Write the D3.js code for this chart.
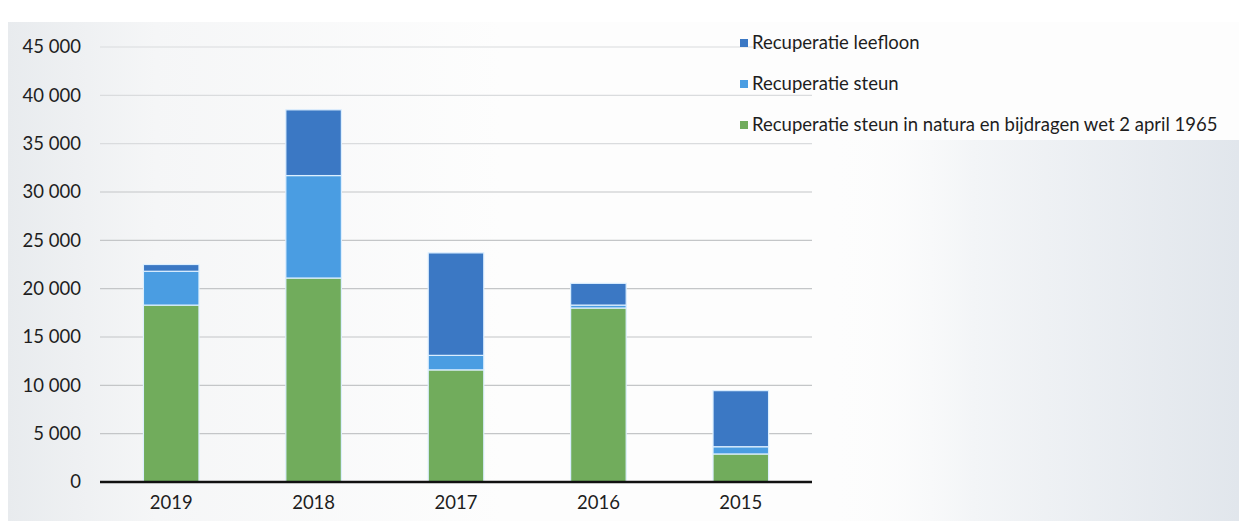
<!DOCTYPE html>
<html>
<head>
<meta charset="utf-8">
<script src="https://cdn.jsdelivr.net/npm/d3@7"></script>
<style>
  html, body { margin: 0; padding: 0; background: #ffffff; }
  svg { display: block; }
  text { font-family: Lato, "Open Sans", "Noto Sans", sans-serif; fill: #1e1e1e; }
</style>
</head>
<body>
<svg id="chart" width="1239" height="521"></svg>
<script>
// ---- data ----
const years = ["2019", "2018", "2017", "2016", "2015"];
const seriesNames = [
  "Recuperatie steun in natura en bijdragen wet 2 april 1965",
  "Recuperatie steun",
  "Recuperatie leefloon"
];
const natura   = [18300, 21100, 11600, 18000, 2900];
const steun    = [3500, 10600, 1500, 300, 750];
const leefloon = [700, 6800, 10600, 2250, 5800];
const yTicks = [0, 5000, 10000, 15000, 20000, 25000, 30000, 35000, 40000, 45000];
const legendOrder = ["Recuperatie leefloon", "Recuperatie steun", "Recuperatie steun in natura en bijdragen wet 2 april 1965"];

const colors = {
  "Recuperatie leefloon": "#3b78c4",
  "Recuperatie steun": "#4a9de2",
  "Recuperatie steun in natura en bijdragen wet 2 april 1965": "#71ac5c"
};

const rows = years.map((yr, i) => ({
  year: yr,
  [seriesNames[0]]: natura[i],
  [seriesNames[1]]: steun[i],
  [seriesNames[2]]: leefloon[i]
}));

(function () {
const svg = d3.select("#chart");
const W = 1239, H = 521;
const FS = 18.5;

// background (scanned page look)
const defs = svg.append("defs");
const grad = defs.append("linearGradient").attr("id", "bg").attr("x1", "0").attr("x2", "1").attr("y1", "0").attr("y2", "0");
grad.append("stop").attr("offset", "0").attr("stop-color", "#e8ebee");
grad.append("stop").attr("offset", "0.12").attr("stop-color", "#f5f6f7");
grad.append("stop").attr("offset", "0.4").attr("stop-color", "#fdfdfd");
grad.append("stop").attr("offset", "1").attr("stop-color", "#fdfdfd");
const grad2 = defs.append("linearGradient").attr("id", "bg2").attr("x1", "0").attr("x2", "1").attr("y1", "0").attr("y2", "0");
grad2.append("stop").attr("offset", "0").attr("stop-color", "#fdfdfd").attr("stop-opacity", 0);
grad2.append("stop").attr("offset", "0.35").attr("stop-color", "#f3f5f7");
grad2.append("stop").attr("offset", "1").attr("stop-color", "#e1e6ec");
svg.append("rect").attr("x", 0).attr("y", 0).attr("width", W).attr("height", H).attr("fill", "#ffffff");
svg.append("rect").attr("x", 8).attr("y", 22).attr("width", W - 8).attr("height", H - 22).attr("fill", "url(#bg)");
svg.append("rect").attr("x", 830).attr("y", 140).attr("width", W - 830).attr("height", H - 140).attr("fill", "url(#bg2)");

const mLeft = 100, mRight = 812, mTop = 47, mBottom = 482;

const x = d3.scaleBand().domain(years).range([mLeft, mRight]).paddingInner(0.61).paddingOuter(0.305);
const y = d3.scaleLinear().domain([0, 45000]).range([mBottom, mTop]);

const fmt = d3.formatLocale({ decimal: ",", thousands: " ", grouping: [3], currency: ["", " €"] }).format(",d");

// gridlines
svg.append("g")
  .selectAll("line")
  .data(yTicks.filter(d => d > 0))
  .join("line")
  .attr("x1", mLeft).attr("x2", mRight)
  .attr("y1", d => y(d)).attr("y2", d => y(d))
  .attr("stroke", d => d >= 35000 ? "#dadcde" : "#c4c6c8").attr("stroke-width", 1.2);

// y axis labels
const yAxis = d3.axisLeft(y).tickValues(yTicks).tickFormat(fmt).tickSize(0).tickPadding(0);
const gy = svg.append("g").attr("transform", `translate(81,0)`).call(yAxis);
gy.select(".domain").remove();
gy.selectAll("text").attr("font-size", FS).attr("font-family", "Lato, 'Open Sans', sans-serif").attr("fill", "#1e1e1e");

// stacked bars
const stacked = d3.stack().keys(seriesNames)(rows);

svg.append("g")
  .selectAll("g")
  .data(stacked)
  .join("g")
  .attr("fill", d => colors[d.key])
  .selectAll("rect")
  .data(d => d)
  .join("rect")
  .attr("x", d => x(d.data.year))
  .attr("width", x.bandwidth())
  .attr("y", d => y(d[1]))
  .attr("height", d => y(d[0]) - y(d[1]))
  .attr("stroke", "#dcefff")
  .attr("stroke-width", 1.2);

// x axis
const xAxis = d3.axisBottom(x).tickSize(0).tickPadding(14);
const gx = svg.append("g").attr("transform", `translate(0,${mBottom})`).call(xAxis);
gx.select(".domain").attr("stroke", "#111").attr("stroke-width", 2.5).attr("d", `M${mLeft},0H${mRight}`);
gx.selectAll("text").attr("font-size", FS).attr("font-family", "Lato, 'Open Sans', sans-serif").attr("fill", "#1e1e1e");

// legend
const lg = svg.append("g").attr("transform", "translate(740,43)");
const item = lg.selectAll("g").data(legendOrder).join("g")
  .attr("transform", (d, i) => `translate(0,${i * 41})`);
item.append("rect").attr("x", 0).attr("y", -4).attr("width", 8).attr("height", 8).attr("fill", d => colors[d]);
item.append("text").attr("x", 12).attr("y", 0).attr("dy", "0.35em")
  .attr("font-size", FS).text(d => d);
})();
</script>
</body>
</html>
